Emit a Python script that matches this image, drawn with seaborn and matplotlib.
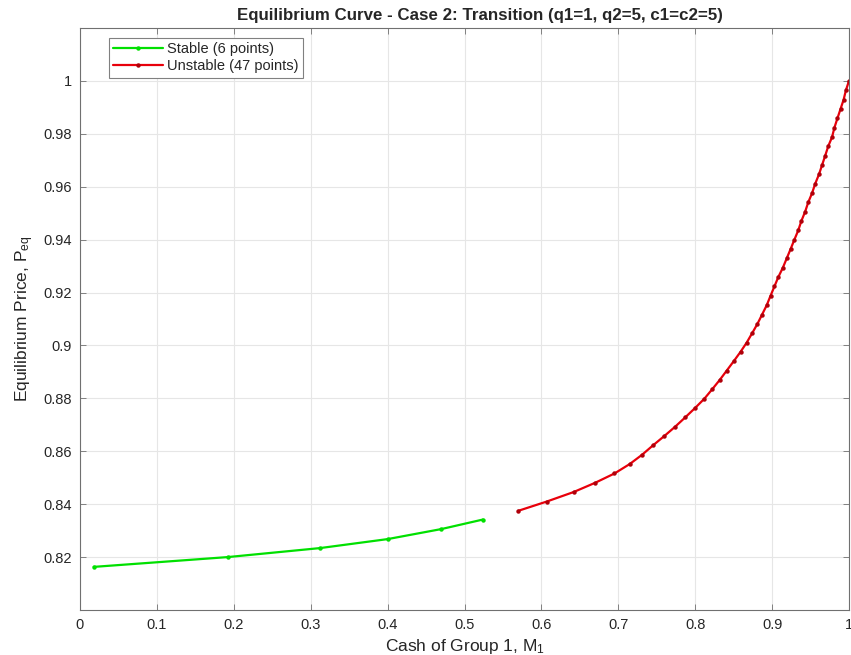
import matplotlib
matplotlib.use("Agg")
import matplotlib.pyplot as plt
import seaborn as sns
import numpy as np

# ---- data ----
stable_x = [0.018, 0.192, 0.312, 0.400, 0.470, 0.524]
stable_y = [0.8163, 0.8200, 0.8234, 0.8268, 0.8306, 0.8342]

unstable_x = [0.570, 0.607, 0.642, 0.670, 0.695, 0.715, 0.731, 0.745, 0.760, 0.774,
              0.787, 0.800, 0.812, 0.822, 0.832, 0.841, 0.850, 0.859, 0.867, 0.874,
              0.881, 0.887, 0.893, 0.898, 0.903, 0.908, 0.914, 0.919, 0.924, 0.929,
              0.934, 0.938, 0.943, 0.947, 0.952, 0.956, 0.961, 0.965, 0.969, 0.973,
              0.978, 0.981, 0.985, 0.989, 0.993, 0.996, 1.000]
unstable_y = [0.8375, 0.8410, 0.8446, 0.8481, 0.8516, 0.8552, 0.8587, 0.8622, 0.8658, 0.8693,
              0.8728, 0.8764, 0.8799, 0.8834, 0.8870, 0.8905, 0.8940, 0.8976, 0.9011, 0.9046,
              0.9082, 0.9117, 0.9152, 0.9188, 0.9223, 0.9258, 0.9294, 0.9329, 0.9364, 0.9400,
              0.9435, 0.9470, 0.9506, 0.9541, 0.9576, 0.9611, 0.9647, 0.9682, 0.9717, 0.9753,
              0.9788, 0.9823, 0.9859, 0.9894, 0.9929, 0.9965, 1.0000]

x_ticks = [0, 0.1, 0.2, 0.3, 0.4, 0.5, 0.6, 0.7, 0.8, 0.9, 1]
x_tick_labels = ["0", "0.1", "0.2", "0.3", "0.4", "0.5", "0.6", "0.7", "0.8", "0.9", "1"]
y_ticks = [0.82, 0.84, 0.86, 0.88, 0.9, 0.92, 0.94, 0.96, 0.98, 1.0]
y_tick_labels = ["0.82", "0.84", "0.86", "0.88", "0.9", "0.92", "0.94", "0.96", "0.98", "1"]

title = "Equilibrium Curve - Case 2: Transition (q1=1, q2=5, c1=c2=5)"
xlabel = "Cash of Group 1, M$_1$"
ylabel = "Equilibrium Price, P$_{\\mathrm{eq}}$"
stable_label = f"Stable ({len(stable_x)} points)"
unstable_label = f"Unstable ({len(unstable_x)} points)"

# ---- style ----
sns.set_theme(style="whitegrid")
plt.rcParams["font.family"] = ["Liberation Sans", "DejaVu Sans"]
plt.rcParams["mathtext.fontset"] = "custom"
plt.rcParams["mathtext.rm"] = "Liberation Sans"
plt.rcParams["mathtext.it"] = "Liberation Sans"

text_col = "#262626"

fig = plt.figure(figsize=(8.51, 6.55), dpi=100)
ax = fig.add_axes([80 / 851, 1 - 610 / 655, (849 - 80) / 851, (610 - 28) / 655])
ax.set_facecolor("white")

sns.lineplot(x=stable_x, y=stable_y, sort=False, color="#00e000", linewidth=1.6,
             marker="o", markersize=3.2, markeredgewidth=0, label=stable_label, ax=ax)
sns.lineplot(x=unstable_x, y=unstable_y, sort=False, color="#e8000b", linewidth=1.6,
             marker="o", markersize=3.2, markeredgewidth=0, markerfacecolor="#b0000a",
             label=unstable_label, ax=ax)

ax.set_xlim(0, 1)
ax.set_ylim(0.80, 1.02)
ax.set_xticks(x_ticks)
ax.set_xticklabels(x_tick_labels)
ax.set_yticks(y_ticks)
ax.set_yticklabels(y_tick_labels)

ax.grid(True, color="#e6e6e6", linewidth=0.8)
for s in ax.spines.values():
    s.set_visible(True)
    s.set_color("#707070")
    s.set_linewidth(0.8)

ax.tick_params(axis="both", direction="in", length=4, width=0.6, color="#707070",
               labelsize=10.5, labelcolor=text_col, pad=6, top=True, right=True,
               bottom=True, left=True)

ax.set_title(title, fontsize=12.2, fontweight="bold", color=text_col, pad=6, x=0.52)
ax.set_xlabel(xlabel, fontsize=12.5, color=text_col, labelpad=3)
ax.set_ylabel(ylabel, fontsize=12.5, color=text_col, labelpad=5)

leg = ax.legend(loc="upper left", bbox_to_anchor=(0.0377, 0.983), borderaxespad=0,
                fontsize=10.5, frameon=True, fancybox=False, edgecolor="#808080",
                framealpha=1, handlelength=3.4, borderpad=0.3, labelspacing=0.2,
                handletextpad=0.3)
leg.get_frame().set_linewidth(0.8)
for t in leg.get_texts():
    t.set_color(text_col)

fig.savefig("out.png", dpi=100)
